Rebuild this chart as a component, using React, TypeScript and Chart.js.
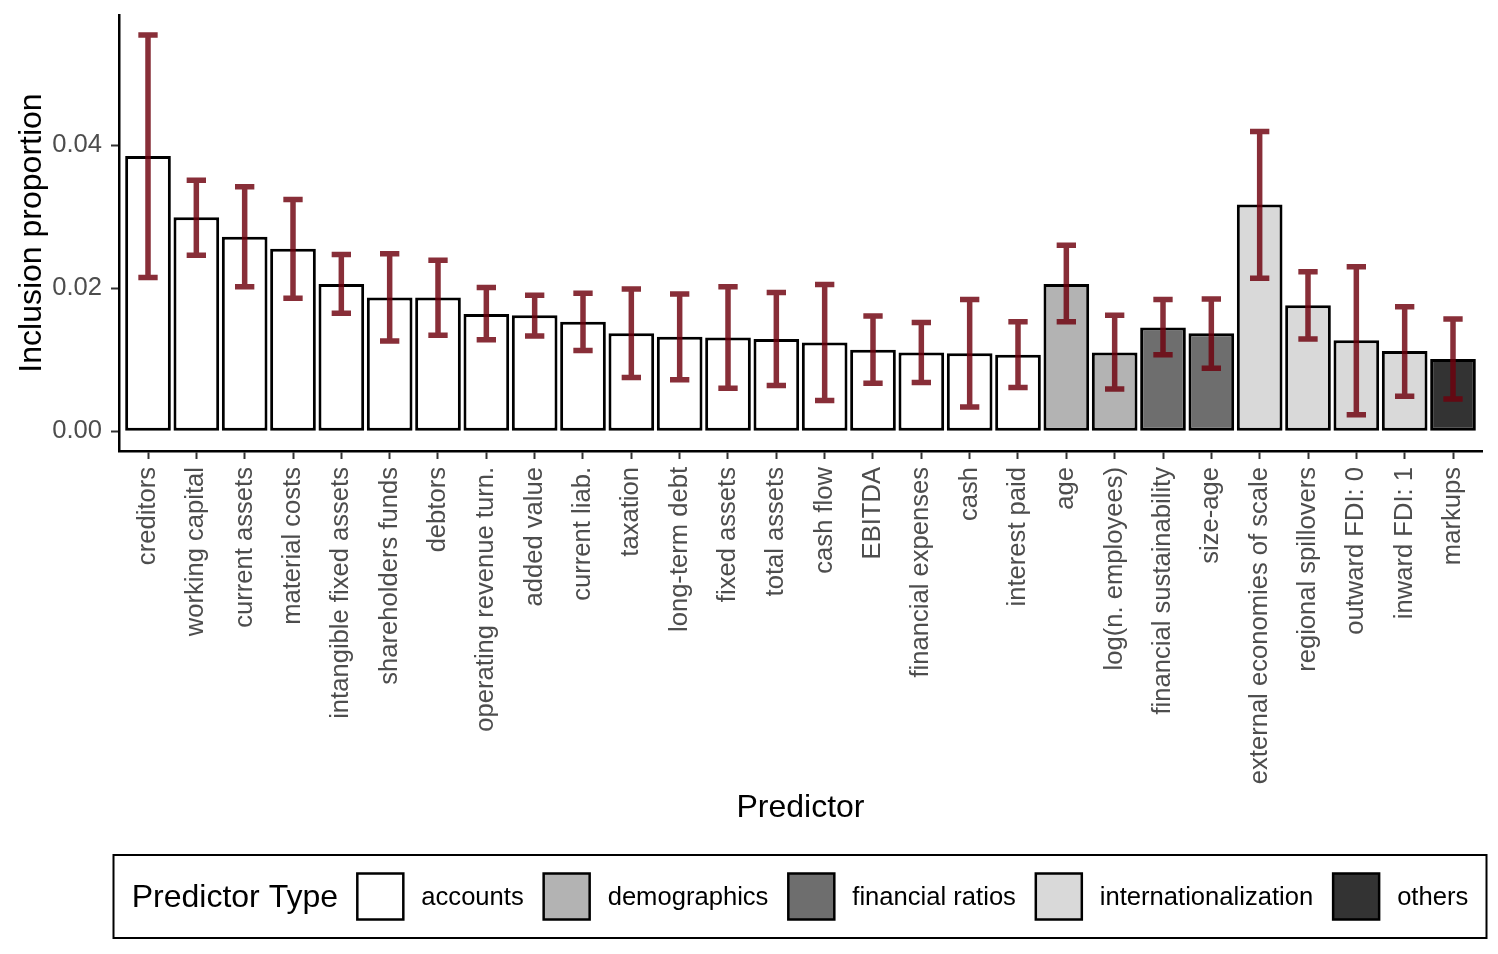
import React, { useEffect, useRef } from "react";
import { Chart, registerables } from "chart.js";

Chart.register(...registerables);

const categories = [
  "creditors", "working capital", "current assets", "material costs",
  "intangible fixed assets", "shareholders funds", "debtors",
  "operating revenue turn.", "added value", "current liab.", "taxation",
  "long-term debt", "fixed assets", "total assets", "cash flow", "EBITDA",
  "financial expenses", "cash", "interest paid", "age", "log(n. employees)",
  "financial sustainability", "size-age", "external economies of scale",
  "regional spillovers", "outward FDI: 0", "inward FDI: 1", "markups",
];

const values = [
  0.0385, 0.0299, 0.0272, 0.0255, 0.0206, 0.0187, 0.0187, 0.0164, 0.0162,
  0.0153, 0.0137, 0.0132, 0.0131, 0.0129, 0.0124, 0.0114, 0.011, 0.0109,
  0.0107, 0.0206, 0.011, 0.0145, 0.0137, 0.0317, 0.0176, 0.0127, 0.0112,
  0.0101,
];

const upper = [
  0.0554, 0.0351, 0.0342, 0.0324, 0.0247, 0.0248, 0.0239, 0.0201, 0.019,
  0.0193, 0.0199, 0.0192, 0.0202, 0.0194, 0.0205, 0.0161, 0.0152, 0.0184,
  0.0153, 0.026, 0.0162, 0.0184, 0.0185, 0.0419, 0.0223, 0.023, 0.0174,
  0.0157,
];

const lower = [
  0.0215, 0.0246, 0.0202, 0.0186, 0.0165, 0.0126, 0.0134, 0.0128, 0.0133,
  0.0113, 0.0075, 0.0072, 0.006, 0.0064, 0.0043, 0.0067, 0.0068, 0.0034,
  0.0061, 0.0153, 0.0059, 0.0107, 0.0088, 0.0214, 0.0129, 0.0023, 0.0049,
  0.0045,
];

const types = [
  "accounts", "accounts", "accounts", "accounts", "accounts", "accounts",
  "accounts", "accounts", "accounts", "accounts", "accounts", "accounts",
  "accounts", "accounts", "accounts", "accounts", "accounts", "accounts",
  "accounts", "demographics", "demographics", "financial ratios",
  "financial ratios", "internationalization", "internationalization",
  "internationalization", "internationalization", "others",
];

const typeNames = ["accounts", "demographics", "financial ratios", "internationalization", "others"];
const typeColors = ["#FFFFFF", "#B3B3B3", "#6E6E6E", "#D9D9D9", "#333333"];

const yTicks = [0, 0.02, 0.04];
const yMin = -0.00277;
const yMax = 0.0582;

const FONT = "'Liberation Sans', Arial, Helvetica, sans-serif";
const ERR_COLOR = "rgba(110, 0, 12, 0.82)";

const errorBarPlugin = {
  id: "errorBars",
  afterDatasetsDraw(chart: any) {
    const { ctx, scales } = chart;
    const x = scales.x;
    const y = scales.y;
    const half = x.getPixelForValue(0.2) - x.getPixelForValue(0);
    ctx.save();
    ctx.strokeStyle = ERR_COLOR;
    ctx.lineWidth = 5.5;
    ctx.lineCap = "butt";
    for (let i = 0; i < categories.length; i++) {
      const cx = x.getPixelForValue(i);
      const t = y.getPixelForValue(upper[i]);
      const b = y.getPixelForValue(lower[i]);
      ctx.beginPath();
      ctx.moveTo(cx - half, t);
      ctx.lineTo(cx + half, t);
      ctx.moveTo(cx, t);
      ctx.lineTo(cx, b);
      ctx.moveTo(cx - half, b);
      ctx.lineTo(cx + half, b);
      ctx.stroke();
    }
    ctx.restore();
  },
};

const legendPlugin = {
  id: "boxLegend",
  afterDraw(chart: any) {
    const { ctx } = chart;
    const boxLeft = 113.5;
    const boxTop = 855;
    const boxW = 1373;
    const boxH = 83;
    const cy = boxTop + boxH / 2 + 1;
    ctx.save();
    ctx.lineWidth = 2;
    ctx.strokeStyle = "#000";
    ctx.strokeRect(boxLeft, boxTop, boxW, boxH);

    ctx.fillStyle = "#000";
    ctx.textBaseline = "middle";
    ctx.textAlign = "left";
    ctx.font = `32px ${FONT}`;
    const title = "Predictor Type";
    let xPos = 131.7;
    ctx.fillText(title, xPos, cy + 1);
    xPos += ctx.measureText(title).width + 18.3;

    ctx.font = `25.6px ${FONT}`;
    typeNames.forEach((name, i) => {
      const key = 46;
      const ky = boxTop + boxH / 2 - key / 2;
      ctx.fillStyle = typeColors[i];
      ctx.fillRect(xPos + 1, ky, key, key);
      ctx.strokeStyle = "#000";
      ctx.lineWidth = 2.5;
      ctx.strokeRect(xPos + 1, ky, key, key);
      ctx.fillStyle = "#000";
      const lx = xPos + 65;
      ctx.fillText(name, lx, cy);
      xPos = lx + ctx.measureText(name).width + 18.9;
    });
    ctx.restore();
  },
};

export default function App() {
  const canvasRef = useRef<HTMLCanvasElement | null>(null);

  useEffect(() => {
    if (!canvasRef.current) return;
    const chart = new Chart(canvasRef.current, {
      type: "bar",
      data: {
        datasets: [
          {
            data: values.map((v, i) => ({ x: i, y: v })),
            backgroundColor: types.map((t) => typeColors[typeNames.indexOf(t)]),
            borderColor: "#000000",
            borderWidth: 3,
            borderSkipped: false,
            barPercentage: 0.945,
            categoryPercentage: 1,
          } as any,
        ],
      },
      options: {
        animation: false,
        responsive: false,
        maintainAspectRatio: false,
        layout: { padding: { left: 0, top: 15, right: 16, bottom: 114 } },
        plugins: {
          legend: { display: false },
          tooltip: { enabled: false },
        },
        scales: {
          x: {
            type: "linear",
            min: -0.6,
            max: categories.length - 0.4,
            offset: false,
            afterBuildTicks: (axis: any) => {
              axis.ticks = categories.map((_, i) => ({ value: i }));
            },
            afterFit: (scale: any) => {
              scale.height = 389;
              scale.paddingLeft = 0;
              scale.paddingRight = 0;
            },
            ticks: {
              autoSkip: false,
              maxRotation: 90,
              minRotation: 90,
              padding: 8,
              color: "#4D4D4D",
              font: { family: FONT, size: 25.6 },
              callback: (v: any) => categories[Math.round(Number(v))] ?? "",
            },
            grid: {
              display: true,
              offset: false,
              drawOnChartArea: false,
              drawTicks: true,
              tickLength: 8,
              tickWidth: 2,
              tickColor: "#333333",
            },
            border: { display: true, color: "#000000", width: 2.5 },
            title: {
              display: true,
              text: "Predictor",
              color: "#000000",
              font: { family: FONT, size: 32 },
              padding: { top: 0, bottom: 13 },
            },
          },
          y: {
            type: "linear",
            min: yMin,
            max: yMax,
            afterBuildTicks: (axis: any) => {
              axis.ticks = yTicks.map((v) => ({ value: v }));
            },
            afterFit: (scale: any) => {
              scale.width = 119;
              scale.paddingTop = 0;
              scale.paddingBottom = 0;
            },
            ticks: {
              padding: 9,
              color: "#4D4D4D",
              font: { family: FONT, size: 25.6 },
              callback: (v: any) => Number(v).toFixed(2),
            },
            grid: {
              display: true,
              offset: false,
              drawOnChartArea: false,
              drawTicks: true,
              tickLength: 8,
              tickWidth: 2,
              tickColor: "#333333",
            },
            border: { display: true, color: "#000000", width: 2.5 },
            title: {
              display: true,
              text: "Inclusion proportion",
              color: "#000000",
              font: { family: FONT, size: 32 },
              padding: { top: 13, bottom: 0 },
            },
          },
        },
      } as any,
      plugins: [errorBarPlugin, legendPlugin],
    });
    return () => chart.destroy();
  }, []);

  return (
    <div style={{ position: "fixed", left: 0, top: 0, width: 1498, height: 954, background: "#fff" }}>
      <canvas ref={canvasRef} width={1498} height={954} style={{ width: 1498, height: 954, display: "block" }} />
    </div>
  );
}
